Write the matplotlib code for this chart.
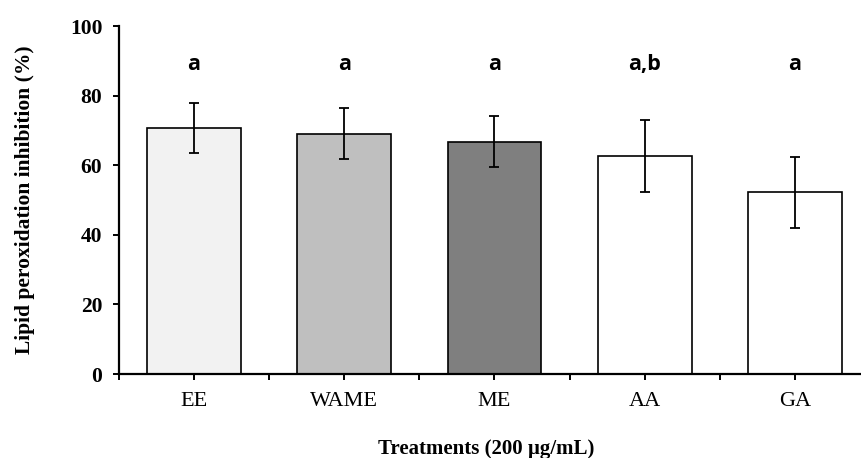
import matplotlib
matplotlib.use("Agg")
import matplotlib.pyplot as plt
import numpy as np

# Values
treatments = ["EE", "WAME", "ME", "AA", "GA"]
inhibition = [70.7, 69.0, 66.8, 62.7, 52.2]
errors = [7.3, 7.3, 7.2, 10.3, 10.3]
letters = ["a", "a", "a", "a,b", "a"]
bar_colors = ["#f2f2f2", "#bfbfbf", "#7f7f7f", "#ffffff", "#ffffff"]

serif = "Liberation Serif"

fig = plt.figure(figsize=(8.62, 4.58), dpi=100)
ax = fig.add_axes([0.138, 0.1834, 0.8713, 0.7598])

x = np.arange(len(treatments))
ax.bar(x, inhibition, width=0.625, color=bar_colors, edgecolor="black",
       linewidth=1.2, zorder=2)
ax.errorbar(x, inhibition, yerr=errors, fmt="none", ecolor="black",
            elinewidth=1.3, capsize=3.5, capthick=1.3, zorder=3)

# Significance letters above each bar
for xi, lab in zip(x, letters):
    ax.text(xi, 89, lab, ha="center", va="center", fontsize=15.5,
            fontweight="bold", family="Open Sans")

ax.set_xlim(-0.5, 4.5)
ax.set_ylim(0, 100)
ax.set_yticks(np.arange(0, 101, 20))
ax.set_xticks(x)
ax.set_xticks(np.arange(-0.5, 4.6, 1), minor=True)
ax.set_xticklabels(treatments, fontsize=16, family=serif)
for lab in ax.get_yticklabels():
    lab.set_fontsize(15.5)
    lab.set_fontweight("bold")
    lab.set_family(serif)

ax.tick_params(axis="both", which="both", direction="out", length=4,
               width=1.4, color="black")
ax.tick_params(axis="x", which="major", pad=9)
ax.tick_params(axis="y", pad=8)

for side in ["top", "right"]:
    ax.spines[side].set_visible(False)
for side in ["left", "bottom"]:
    ax.spines[side].set_linewidth(1.6)

ax.set_ylabel("Lipid peroxidation inhibition (%)", fontsize=15.5,
              fontweight="bold", family=serif, labelpad=25)
ax.set_xlabel("Treatments (200 \u00b5g/mL)", fontsize=15,
              fontweight="bold", family=serif, va="center")
ax.xaxis.set_label_coords(0.489, -0.215)

fig.savefig("out.png", dpi=100)
